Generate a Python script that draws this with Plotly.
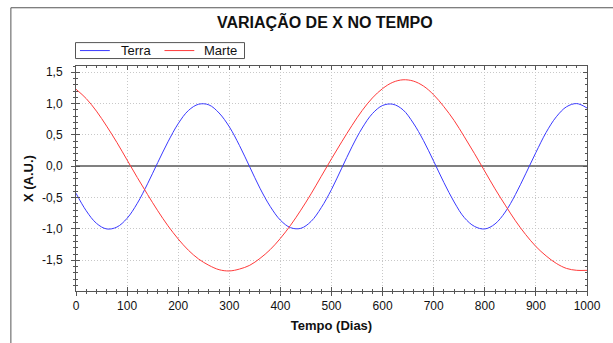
import plotly.graph_objects as go

# ---- data ----
tempo_dias = [0, 20, 40, 60, 80, 100, 120, 140, 160, 180, 200, 220, 240, 260, 280,
              300, 320, 340, 360, 380, 400, 420, 440, 460, 480, 500, 520, 540, 560,
              580, 600, 620, 640, 660, 680, 700, 720, 740, 760, 780, 800, 820, 840,
              860, 880, 900, 920, 940, 960, 980, 1000]

x_terra = [-0.43, -0.71, -0.91, -1.00, -0.97, -0.83, -0.59, -0.28, 0.06, 0.39,
           0.68, 0.89, 0.99, 0.98, 0.85, 0.63, 0.33, -0.01, -0.35, -0.64,
           -0.86, -0.98, -0.99, -0.88, -0.66, -0.37, -0.03, 0.31, 0.61, 0.84,
           0.97, 0.99, 0.90, 0.69, 0.41, 0.08, -0.26, -0.57, -0.82, -0.96,
           -1.00, -0.92, -0.73, -0.45, -0.12, 0.22, 0.54, 0.79, 0.95, 1.00, 0.93]

x_marte = [1.23, 1.08, 0.88, 0.64, 0.38, 0.10, -0.18, -0.45, -0.71, -0.95,
           -1.16, -1.34, -1.48, -1.58, -1.65, -1.67, -1.64, -1.58, -1.47, -1.33,
           -1.15, -0.94, -0.70, -0.44, -0.16, 0.12, 0.39, 0.65, 0.89, 1.09,
           1.24, 1.34, 1.38, 1.36, 1.28, 1.14, 0.95, 0.73, 0.47, 0.20,
           -0.08, -0.36, -0.62, -0.87, -1.09, -1.28, -1.43, -1.55, -1.63, -1.66, -1.66]

series_names = ["Terra", "Marte"]
series_colors = ["#3a3aff", "#ff3a3a"]

x_ticks = [0, 100, 200, 300, 400, 500, 600, 700, 800, 900, 1000]
x_tick_labels = ["0", "100", "200", "300", "400", "500", "600", "700", "800", "900", "1000"]
y_ticks = [-1.5, -1.0, -0.5, 0.0, 0.5, 1.0, 1.5]
y_tick_labels = ["-1,5", "-1,0", "-0,5", "0,0", "0,5", "1,0", "1,5"]

FONT = "Liberation Sans, Arial, sans-serif"
AXIS_C = "#555555"
GRID_C = "#c8c8c8"

# plot area in pixels
L, R, T, B = 76, 590, 66, 292
W, H = R - L, B - T


def xp(px):
    return (px - L) / W


def yp(py):
    return (B - py) / H


fig = go.Figure()
for name, ys, col in zip(series_names, [x_terra, x_marte], series_colors):
    fig.add_trace(go.Scatter(x=tempo_dias, y=ys, name=name, mode="lines",
                             line=dict(color=col, width=1, shape="spline")))
# invisible trace so the overlay axes (inside ticks) get drawn
fig.add_trace(go.Scatter(x=[tempo_dias[0]], y=[x_terra[0]], xaxis="x2", yaxis="y2",
                         mode="markers", marker=dict(opacity=0), showlegend=False,
                         hoverinfo="skip"))

XR = [0, 1000]
YR = [-1.99, 1.6]

fig.update_layout(
    width=613, height=343,
    margin=dict(l=L, r=613 - R, t=T, b=343 - B),
    paper_bgcolor="white", plot_bgcolor="white",
    font=dict(family=FONT, size=12, color="#111111"),
    separators=",.",
    title=dict(text="<b>VARIAÇÃO DE X NO TEMPO</b>", x=0.53, xanchor="center",
               y=1 - 22 / 343, yanchor="middle",
               font=dict(size=16, family=FONT, color="#111111")),
    showlegend=False,
    xaxis=dict(range=XR, tickmode="array", tickvals=x_ticks, ticktext=x_tick_labels,
               ticks="outside", ticklen=4, tickcolor=AXIS_C, tickwidth=1,
               showline=True, linecolor=AXIS_C, linewidth=1, mirror=True,
               showgrid=True, gridcolor=GRID_C, griddash="1px,2px", gridwidth=1,
               zeroline=False,
               minor=dict(tickmode="linear", tick0=0, dtick=20, ticks="outside",
                          ticklen=2, tickcolor=AXIS_C, showgrid=False),
               title=dict(text="<b>Tempo (Dias)</b>", font=dict(size=13), standoff=8),
               tickfont=dict(size=12)),
    yaxis=dict(range=YR, tickmode="array", tickvals=y_ticks, ticktext=y_tick_labels,
               ticks="outside", ticklen=4, tickcolor=AXIS_C, tickwidth=1,
               showline=True, linecolor=AXIS_C, linewidth=1, mirror=True,
               showgrid=True, gridcolor=GRID_C, griddash="1px,2px", gridwidth=1,
               zeroline=True, zerolinecolor="#808080", zerolinewidth=1.5,
               minor=dict(tickmode="linear", tick0=0, dtick=0.1, ticks="outside",
                          ticklen=2, tickcolor=AXIS_C, showgrid=False),
               ticklabelstandoff=6,
               title=dict(text="<b>X (A.U.)</b>", font=dict(size=13), standoff=5),
               tickfont=dict(size=12)),
    xaxis2=dict(range=XR, overlaying="x", side="bottom", tickmode="array",
                tickvals=x_ticks, ticks="inside", ticklen=4, tickcolor=AXIS_C,
                mirror="ticks", showline=False, showticklabels=False, showgrid=False,
                zeroline=False,
                minor=dict(tickmode="linear", tick0=0, dtick=20, ticks="inside",
                           ticklen=2, tickcolor=AXIS_C, showgrid=False)),
    yaxis2=dict(range=YR, overlaying="y", side="left", tickmode="array",
                tickvals=y_ticks, ticks="inside", ticklen=4, tickcolor=AXIS_C,
                mirror="ticks", showline=False, showticklabels=False, showgrid=False,
                zeroline=False,
                minor=dict(tickmode="linear", tick0=0, dtick=0.1, ticks="inside",
                           ticklen=2, tickcolor=AXIS_C, showgrid=False)),
)

# outer frame lines (top and left) of the chart image
fig.add_shape(type="line", xref="paper", yref="paper", x0=xp(10.5), y0=yp(7.5),
              x1=xp(620), y1=yp(7.5), line=dict(color=AXIS_C, width=1))
fig.add_shape(type="line", xref="paper", yref="paper", x0=xp(10.5), y0=yp(7.5),
              x1=xp(10.5), y1=yp(350), line=dict(color=AXIS_C, width=1))

# legend box (drawn to match the reference's compact legend)
fig.add_shape(type="rect", xref="paper", yref="paper", x0=xp(75.5), x1=xp(245.5),
              y0=yp(58.5), y1=yp(42.5), line=dict(color=AXIS_C, width=1),
              fillcolor="white")
leg_line_x = [(80, 110), (165, 195)]
leg_text_x = [119, 203]
for (a, b), tx, name, col in zip(leg_line_x, leg_text_x, series_names, series_colors):
    fig.add_shape(type="line", xref="paper", yref="paper", x0=xp(a), x1=xp(b),
                  y0=yp(50.5), y1=yp(50.5), line=dict(color=col, width=1))
    fig.add_annotation(text=name, xref="paper", yref="paper", x=xp(tx), y=yp(50.5),
                       xanchor="left", yanchor="middle", showarrow=False,
                       font=dict(size=13, family=FONT, color="#111111"))

fig.write_html("out.html")
